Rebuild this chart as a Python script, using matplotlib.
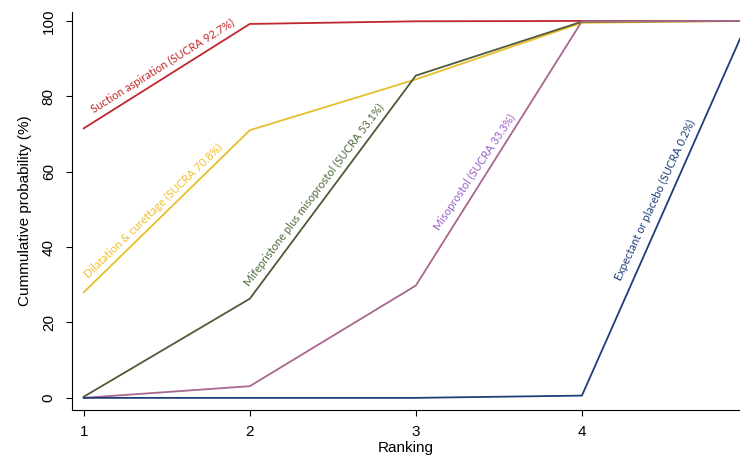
import matplotlib
matplotlib.use("Agg")
import matplotlib.pyplot as plt

ranks = [1, 2, 3, 4, 5]
suction = [71.5, 99.2, 99.9, 100, 100]
dilatation = [28.0, 71.0, 84.5, 99.5, 100]
mifepristone = [0.3, 26.3, 85.5, 99.8, 100]
misoprostol = [0.0, 3.1, 29.8, 99.9, 100]
expectant = [0.0, 0.0, 0.0, 0.6, 100]

labels = [
    "Suction aspiration (SUCRA 92.7%)",
    "Dilatation & curettage (SUCRA 70.8%)",
    "Mifepristone plus misoprostol (SUCRA 53.1%)",
    "Misoprostol (SUCRA 33.3%)",
    "Expectant or placebo (SUCRA 0.2%)",
]

plt.rcParams['font.family'] = ['Liberation Sans', 'DejaVu Sans']

fig = plt.figure(figsize=(7.4, 4.57), dpi=100)
ax = fig.add_axes([0.097, 0.103, 0.903, 0.871])

series = [suction, dilatation, mifepristone, misoprostol, expectant]
line_colors = ["#c0272d", "#e6bf2a", "#4f5a37", "#a8678f", "#1f3d78"]
text_colors = ["#c0272d", "#f0c030", "#4f6a3a", "#9b5fc8", "#1f3d78"]
# label anchor (rank, prob) and angle along the line
label_pos = [(1.07, 75.1, 32), (1.04, 31.3, 44), (2.01, 29.2, 53),
             (3.15, 44.0, 56), (4.25, 30.8, 65)]

for vals, c in zip(series, line_colors):
    ax.plot(ranks, vals, color=c, lw=1.3)

for lab, (x, y, rot), c in zip(labels, label_pos, text_colors):
    ax.text(x, y, lab, color=c, rotation=rot, rotation_mode='anchor',
            ha='left', va='bottom', fontsize=8, family=['Lato', 'DejaVu Sans'])

ax.set_xlim(0.928, 4.952)
ax.set_ylim(-3.2, 102.4)
ax.set_xticks([1, 2, 3, 4])
ax.set_yticks([0, 20, 40, 60, 80, 100])
ax.tick_params(axis='both', labelsize=11, length=4.5)
ax.tick_params(axis='y', labelrotation=90, pad=7)
ax.tick_params(axis='x', pad=6)
for t in ax.get_yticklabels():
    t.set_va('center')
ax.spines['top'].set_visible(False)
ax.spines['right'].set_visible(False)
ax.set_xlabel("Ranking", fontsize=11, labelpad=2)
ax.set_ylabel("Cummulative probability (%)", fontsize=11, labelpad=7)

fig.savefig("out.png", dpi=100)
